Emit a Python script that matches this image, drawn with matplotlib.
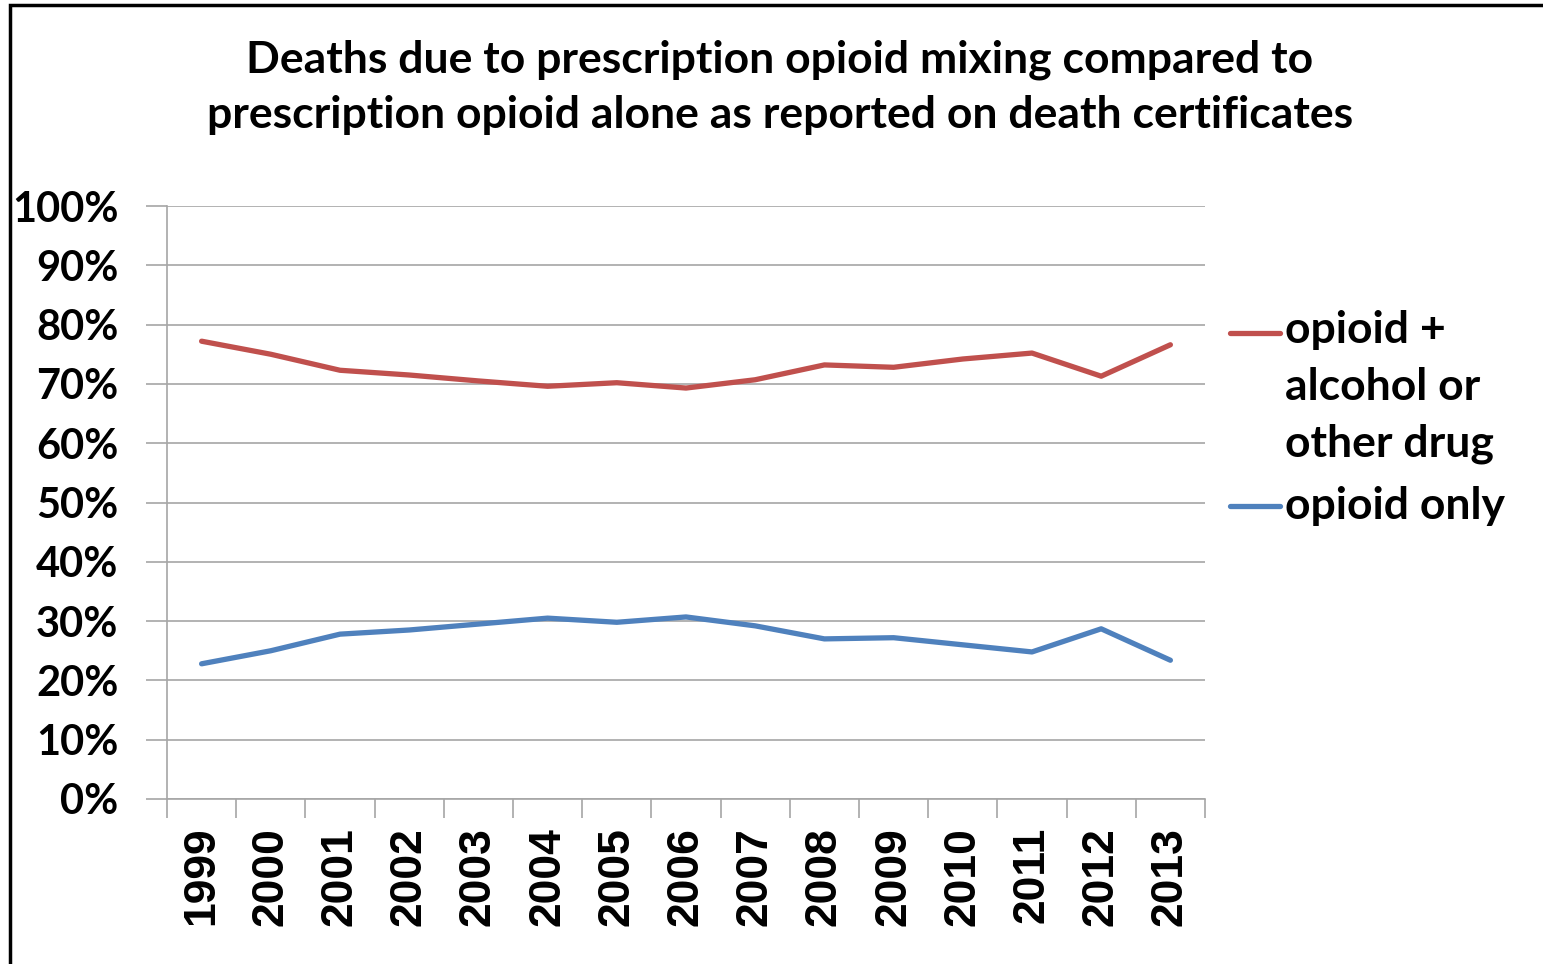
import matplotlib.pyplot as plt
from matplotlib.lines import Line2D
from matplotlib.patches import Rectangle

years = ['1999', '2000', '2001', '2002', '2003', '2004', '2005', '2006',
         '2007', '2008', '2009', '2010', '2011', '2012', '2013']
mixed = [77.2, 75.0, 72.3, 71.5, 70.5, 69.6, 70.2, 69.3,
         70.7, 73.2, 72.8, 74.2, 75.2, 71.3, 76.6]
alone = [22.8, 25.0, 27.8, 28.5, 29.5, 30.5, 29.8, 30.7,
         29.2, 27.0, 27.2, 26.0, 24.8, 28.7, 23.4]
yticks = [0, 10, 20, 30, 40, 50, 60, 70, 80, 90, 100]

red = '#C0504D'
blue = '#4F81BD'
grid = '#a6a6a6'
font = 'Lato'

W, H = 1543, 964
fig = plt.figure(figsize=(W / 100, H / 100), dpi=100)
ax = fig.add_axes([167 / W, 1 - 799 / H, (1205 - 167) / W, (799 - 206) / H])

x = list(range(len(years)))
ax.plot(x, mixed, color=red, lw=3.8, solid_capstyle='round')
ax.plot(x, alone, color=blue, lw=3.8, solid_capstyle='round')

ax.set_xlim(-0.5, len(years) - 0.5)
ax.set_ylim(0, 100)
ax.set_yticks(yticks)
ax.set_yticklabels([f'{v}%' for v in yticks], fontfamily=font,
                   fontweight='bold', fontsize=30)
ax.yaxis.grid(True, color=grid, lw=1.2)
ax.set_axisbelow(True)
ax.tick_params(axis='y', length=15, width=1.2, color=grid, pad=20)

ax.set_xticks(x)
ax.set_xticklabels(years, rotation=90, fontfamily='Liberation Sans',
                   fontweight='bold', fontsize=32)
ax.tick_params(axis='x', which='major', length=0, pad=20)
ax.set_xticks([i - 0.5 for i in range(len(years) + 1)], minor=True)
ax.tick_params(axis='x', which='minor', length=14, width=1.2, color=grid)

for s in ['top', 'right']:
    ax.spines[s].set_visible(False)
for s in ['left', 'bottom']:
    ax.spines[s].set_color(grid)
    ax.spines[s].set_linewidth(1.2)

fig.text(780 / W, 1 - 87 / H,
         'Deaths due to prescription opioid mixing compared to\n'
         'prescription opioid alone as reported on death certificates',
         ha='center', va='center', fontfamily=font, fontweight='bold',
         fontsize=32, linespacing=1.45)

# legend
for yy, c in [(333, red), (506, blue)]:
    fig.add_artist(Line2D([1230 / W, 1280 / W], [1 - yy / H, 1 - yy / H],
                          color=c, lw=3.8, solid_capstyle='round'))
fig.text(1285 / W, 1 - 310 / H, 'opioid +\nalcohol or\nother drug',
         ha='left', va='top', fontfamily=font, fontweight='bold',
         fontsize=32, linespacing=1.5)
fig.text(1285 / W, 1 - 506 / H, 'opioid only', ha='left', va='center',
         fontfamily=font, fontweight='bold', fontsize=32)

fig.add_artist(Rectangle((10 / W, -0.1), 1.2, 1 - 5 / H + 0.1,
                         transform=fig.transFigure, fill=False,
                         edgecolor='black', lw=2.5))

fig.savefig('out.png', dpi=100)
